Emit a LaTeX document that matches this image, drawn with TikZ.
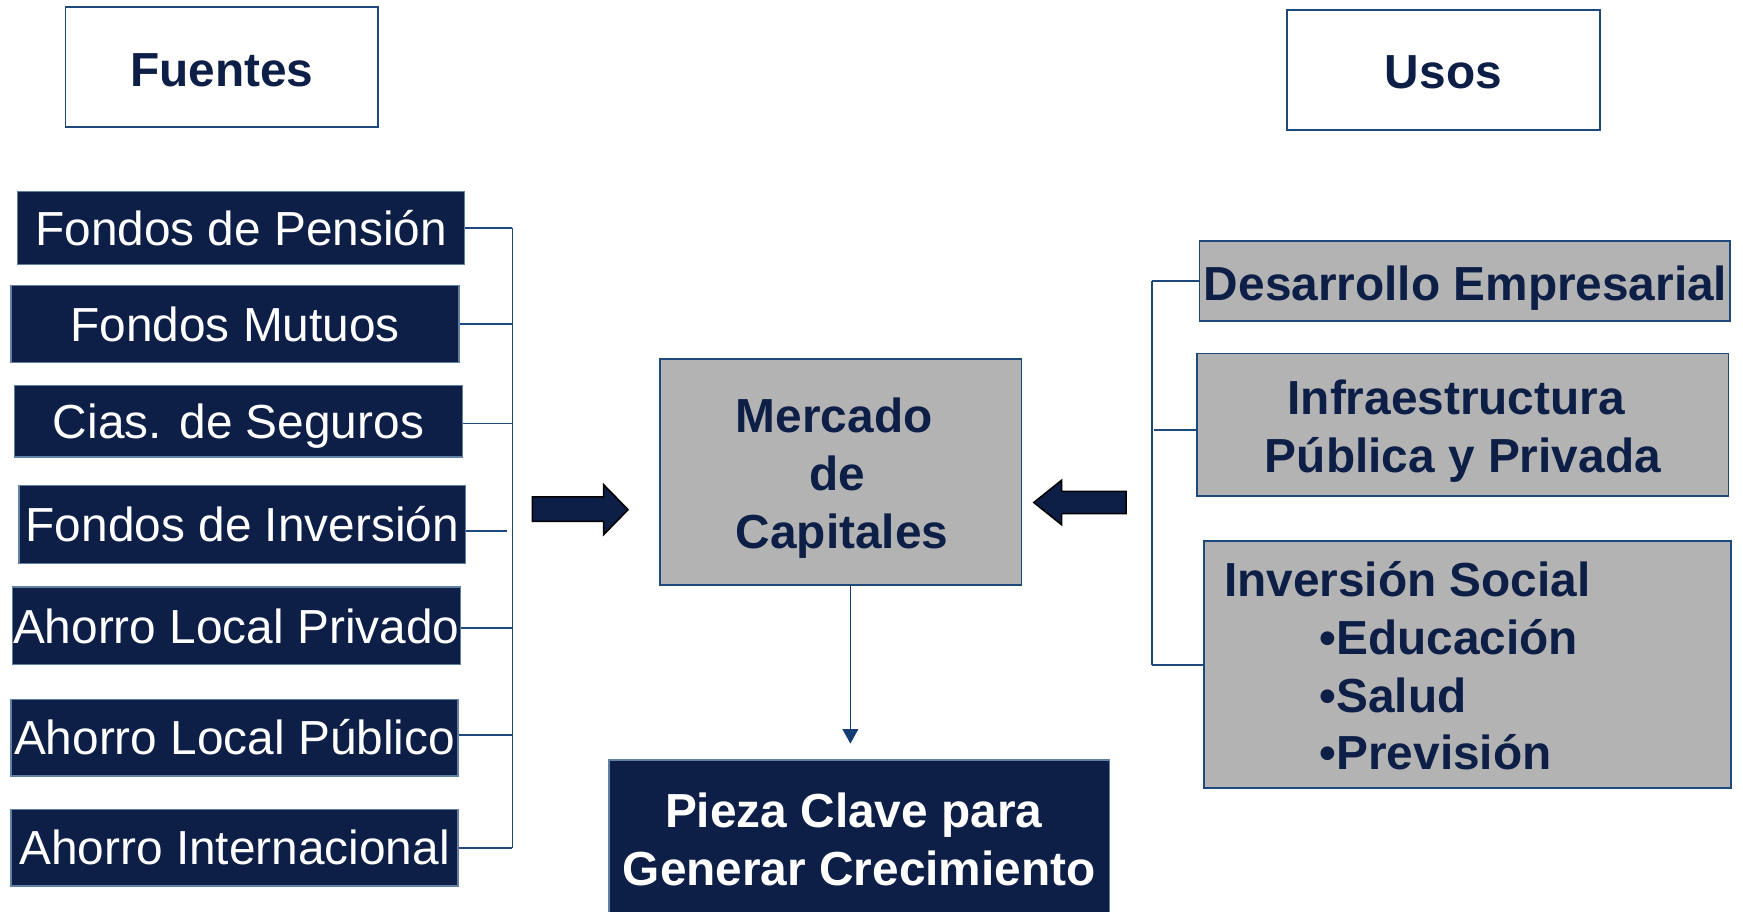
\documentclass[tikz,border=0pt]{standalone}
\usepackage{fontspec}
\setmainfont{Liberation Sans}
\usetikzlibrary{arrows.meta}
\definecolor{navy}{RGB}{13,31,71}
\definecolor{edgeblue}{RGB}{31,73,125}
\definecolor{linkblue}{RGB}{20,62,115}
\definecolor{boxgray}{RGB}{179,179,179}
\tikzset{
  headbox/.style={draw=edgeblue, line width=1.6pt, fill=white, text=navy, font=\fontsize{43}{52}\selectfont\bfseries, inner sep=0pt, text height=34pt, text depth=3pt},
  srcbox/.style={draw=edgeblue!70!white, line width=1.2pt, fill=navy, text=white, inner sep=0pt, font=\fontsize{43}{52}\selectfont, text height=34pt, text depth=3pt},
  usebox/.style={draw=edgeblue, line width=1.6pt, fill=boxgray, inner sep=0pt},
  boldtxt/.style={text=navy, inner sep=0pt, align=center, font=\fontsize{43}{52}\selectfont\bfseries},
  link/.style={draw=edgeblue, line width=1.7pt},
  blockarrow/.style={fill=navy, draw=black, line width=1.4pt, line join=miter},
}
\begin{document}
\begin{tikzpicture}[x=1pt, y=-1pt]
\useasboundingbox (0,0) rectangle (1568,820);
% headers
\node[headbox, minimum width=281pt, minimum height=108pt] (fuentes) at (199.5,60) {};
\node[boldtxt, text height=34pt, text depth=3pt] (fuentesT) at (199.5,62) {Fuentes};
\node[headbox, minimum width=281pt, minimum height=108pt] (usos) at (1298.5,63) {};
\node[boldtxt, text height=34pt, text depth=3pt] (usosT) at (1298.5,64) {Usos};
% sources
\node[srcbox, minimum width=402pt, minimum height=66pt] (f1) at (217,205) {Fondos de Pensión};
\node[srcbox, minimum width=403pt, minimum height=69pt] (f2) at (211.5,291.5) {Fondos Mutuos};
\node[srcbox, minimum width=403pt, minimum height=64pt] (f3) at (214.5,379) {Cias. de Seguros};
\node[srcbox, minimum width=402pt, minimum height=70pt] (f4) at (218,472) {Fondos de Inversión};
\node[srcbox, minimum width=403pt, minimum height=70pt] (f5) at (212.5,563) {Ahorro Local Privado};
\node[srcbox, minimum width=402pt, minimum height=69pt] (f6) at (211,663.5) {Ahorro Local Público};
\node[srcbox, minimum width=402pt, minimum height=69pt] (f7) at (211,762.5) {Ahorro Internacional};
% bus left
\coordinate (busL) at (461,0);
\draw[link] (f1.east) -- (f1.east -| busL);
\draw[link] (f2.east) -- (f2.east -| busL);
\draw[link] ([yshift=-2pt]f3.east) -- ([yshift=-2pt]f3.east -| busL);
\coordinate (f4c) at ([yshift=-6pt]f4.east);
\draw[link] (f4c) -- ([xshift=-5pt]f4c -| busL);
\draw[link] ([yshift=-2pt]f5.east) -- ([yshift=-2pt]f5.east -| busL);
\draw[link] ([yshift=2pt]f6.east) -- ([yshift=2pt]f6.east -| busL);
\draw[link] (f7.east) -- (f7.east -| busL);
\draw[link] (f1.east -| busL) -- (f7.east -| busL);
% center
\node[usebox, minimum width=325pt, minimum height=203pt] (merc) at (756.5,424.5) {};
\node[boldtxt] (mercT) at (753.5,430) {\hspace*{-6pt}Mercado\\de\\\hspace*{8pt}Capitales};
\node[usebox, fill=navy, draw=edgeblue!70!white, minimum width=450pt, minimum height=142pt] (pieza) at (773,755) {};
\node[boldtxt, text=white] (piezaT) at (773,755) {\hspace*{-10pt}Pieza Clave para\\Generar Crecimiento};
\coordinate (dn) at (765,669);
\draw[draw=linkblue, line width=1.4pt, -{Triangle[width=14pt,length=13pt]}] (merc.south -| dn) -- (dn);
% block arrows
\draw[blockarrow] (479,447) -- (543,447) -- (543,436) -- (565,458.5) -- (543,481) -- (543,469) -- (479,469) -- cycle;
\draw[blockarrow] (1013,442) -- (955,442) -- (955,432) -- (930,452) -- (955,472) -- (955,462) -- (1013,462) -- cycle;
% uses
\node[usebox, minimum width=477pt, minimum height=72pt] (u1) at (1317.5,253) {};
\node[boldtxt, text height=34pt, text depth=3pt] (u1T) at (1318.5,255) {Desarrollo Empresarial};
\node[usebox, minimum width=478pt, minimum height=128pt] (u2) at (1316,382) {};
\node[boldtxt] (u2T) at (1316,387.5) {\hspace*{-12pt}Infraestructura\\Pública y Privada};
\node[usebox, minimum width=474pt, minimum height=222pt] (u3) at (1320,598) {};
\node[boldtxt, anchor=west, align=left] (u3T) at (1101,599) {Inversión Social\\\hspace*{86pt}•Educación\\\hspace*{86pt}•Salud\\\hspace*{86pt}•Previsión};
\coordinate (busR) at (1036,0);
\draw[link] (u1.west) -- (u1.west -| busR);
\draw[link] ([yshift=-5pt]u2.west) -- ([yshift=-5pt,xshift=2pt]u2.west -| busR);
\draw[link] (u3.west) -- (u3.west -| busR);
\draw[link] (u1.west -| busR) -- (u3.west -| busR);
\end{tikzpicture}
\end{document}
